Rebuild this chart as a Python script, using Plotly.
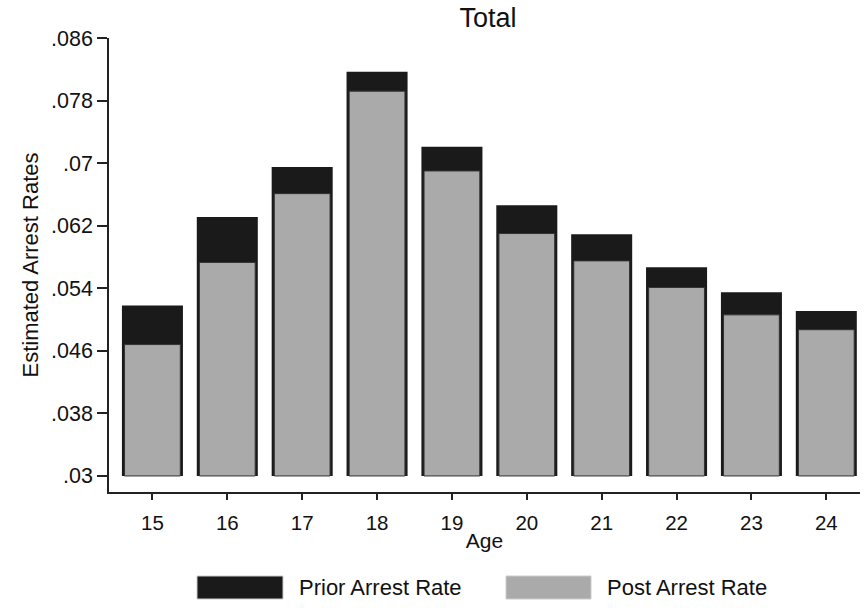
import plotly.graph_objects as go

ages = [15, 16, 17, 18, 19, 20, 21, 22, 23, 24]
prior_rate = [0.0518, 0.0631, 0.0695, 0.0817, 0.0721, 0.0646, 0.0609, 0.0567, 0.0535, 0.0511]
post_rate = [0.0468, 0.0573, 0.0661, 0.0792, 0.0690, 0.0610, 0.0575, 0.0541, 0.0506, 0.0487]
y_ticks = [0.03, 0.038, 0.046, 0.054, 0.062, 0.07, 0.078, 0.086]
y_tick_labels = [".03", ".038", ".046", ".054", ".062", ".07", ".078", ".086"]
base_value = 0.03

FONT = "Liberation Sans, Arial, sans-serif"
BLACK = "#1a1a1a"
GRAY = "#aaaaaa"
TEXT = "#111111"

fig = go.Figure()
fig.add_trace(go.Bar(
    x=ages, y=[v - base_value for v in prior_rate], base=base_value,
    name="Prior Arrest Rate", width=0.815,
    marker=dict(color=BLACK, line=dict(color=BLACK, width=0)),
    showlegend=False,
))
fig.add_trace(go.Bar(
    x=ages, y=[v - base_value for v in post_rate], base=base_value,
    name="Post Arrest Rate", width=0.745,
    marker=dict(color=GRAY, line=dict(color="#333333", width=1)),
    showlegend=False,
))

L, R, T, B = 109, 7, 38, 116
W, H = 867, 608
pw, ph = W - L - R, H - T - B

def px(x):
    return (x - L) / pw

def py(y):
    return (H - B - y) / ph

shapes = []
annotations = []
legend_items = [("Prior Arrest Rate", BLACK, 197, 283, 297), ("Post Arrest Rate", GRAY, 506, 591, 605)]
for name, col, x0, x1, tx in legend_items:
    shapes.append(dict(type="rect", xref="paper", yref="paper",
                       x0=px(x0), x1=px(x1), y0=py(599), y1=py(576),
                       fillcolor=col, line=dict(color="#cccccc", width=1)))
    annotations.append(dict(text=name, xref="paper", yref="paper",
                            x=px(tx), y=py(587.5), xanchor="left", yanchor="middle",
                            showarrow=False, font=dict(family=FONT, size=22, color=TEXT)))

fig.update_layout(
    width=W, height=H,
    margin=dict(l=L, r=R, t=T, b=B),
    plot_bgcolor="white", paper_bgcolor="white",
    barmode="overlay",
    title=dict(text="Total", xref="container", x=488 / W, xanchor="center",
               yref="container", y=1 - 18 / H, yanchor="middle",
               font=dict(family=FONT, size=27, color=TEXT)),
    font=dict(family=FONT, size=21, color=TEXT),
    xaxis=dict(
        range=[14.42, 24.45], tickvals=ages, ticks="outside", ticklen=6, tickwidth=1.5,
        tickcolor="#222222", showline=True, linecolor="#222222", linewidth=1.5,
        showgrid=False, zeroline=False, ticklabelstandoff=6,
        title=dict(text="Age", standoff=0, font=dict(family=FONT, size=21)),
        tickfont=dict(family=FONT, size=20.5),
    ),
    yaxis=dict(
        range=[base_value - 16 / 7800, 0.086], tickvals=y_ticks, ticktext=y_tick_labels,
        ticks="outside", ticklen=10, tickwidth=1.5, tickcolor="#222222",
        showline=True, linecolor="#222222", linewidth=1.5,
        showgrid=False, zeroline=False,
        title=dict(text="Estimated Arrest Rates", standoff=6, font=dict(family=FONT, size=22)),
        tickfont=dict(family=FONT, size=21.5),
    ),
    shapes=shapes, annotations=annotations,
)

fig.write_html("out.html", config={"displayModeBar": False},
               post_script="document.body.style.margin='0px';document.body.style.overflow='hidden';")
